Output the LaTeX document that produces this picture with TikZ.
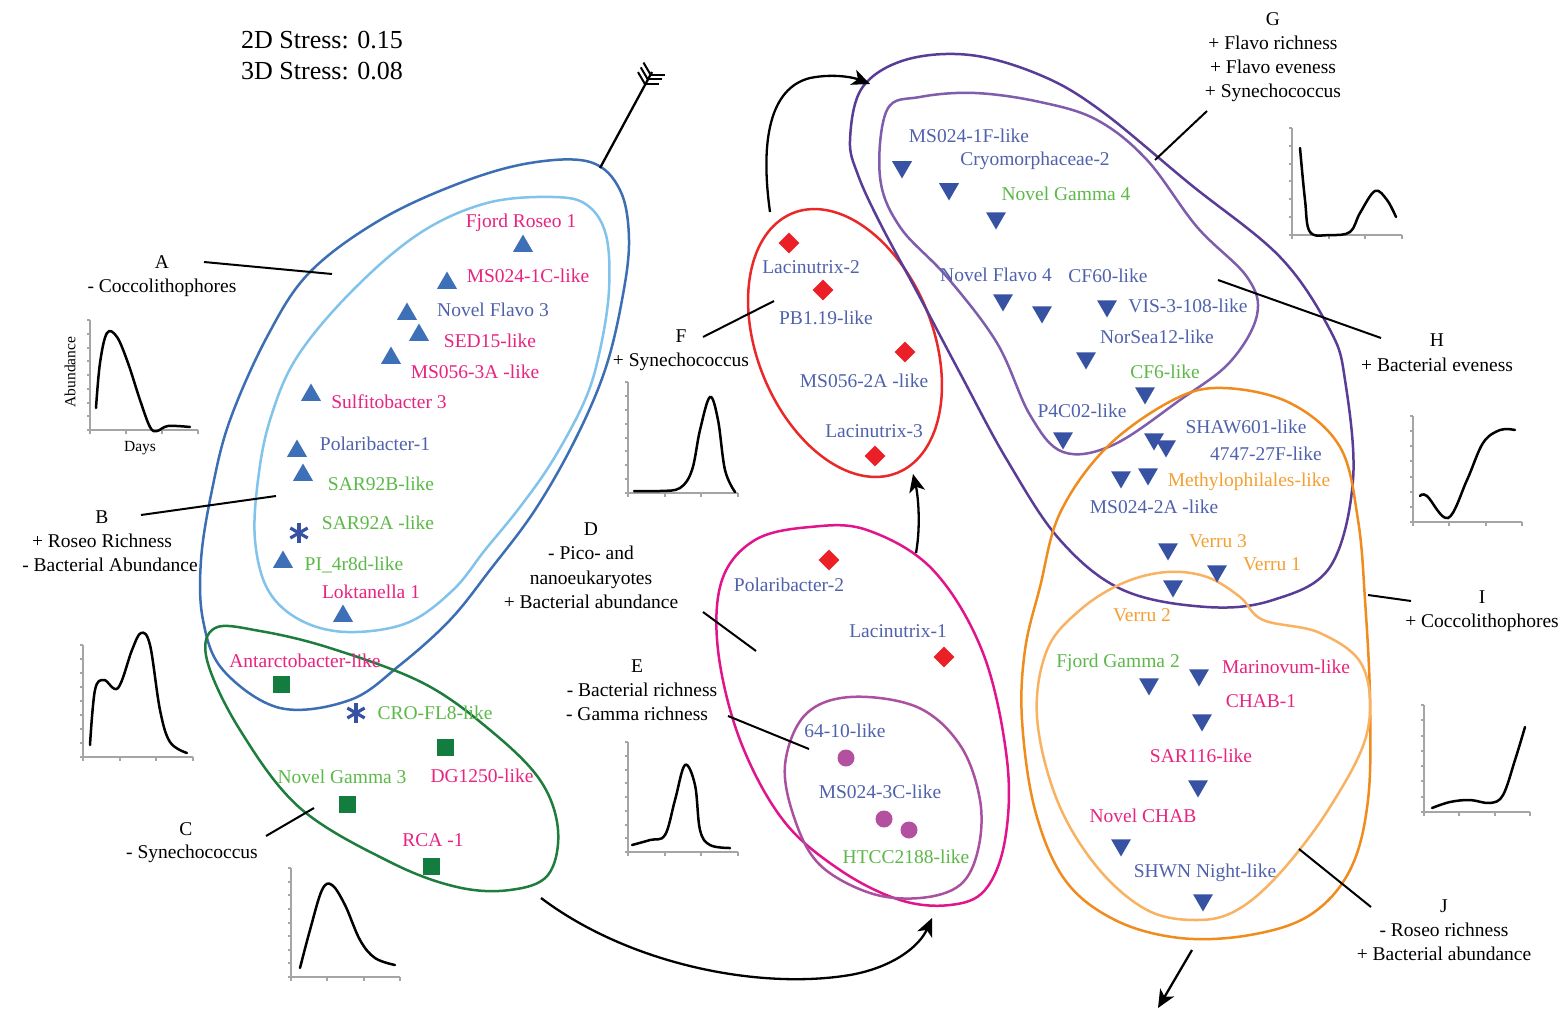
\documentclass[tikz,border=0pt]{standalone}
\usepackage{fontspec}
\setmainfont{Liberation Serif}
\usetikzlibrary{shapes.geometric,arrows.meta}
\definecolor{cblue}{RGB}{80,98,172}
\definecolor{cpink}{RGB}{232,35,128}
\definecolor{cgreen}{RGB}{92,184,72}
\definecolor{corange}{RGB}{245,160,50}
\definecolor{mtriu}{RGB}{62,112,184}
\definecolor{mtrid}{RGB}{55,82,162}
\definecolor{mred}{RGB}{235,32,38}
\definecolor{msq}{RGB}{18,125,62}
\definecolor{mcirc}{RGB}{180,80,160}
\definecolor{oA}{RGB}{60,110,180}
\definecolor{oB}{RGB}{130,195,235}
\definecolor{oC}{RGB}{30,125,60}
\definecolor{oF}{RGB}{235,40,40}
\definecolor{oD}{RGB}{225,20,140}
\definecolor{oE}{RGB}{170,80,160}
\definecolor{oG}{RGB}{88,60,150}
\definecolor{oH}{RGB}{128,92,172}
\definecolor{oI}{RGB}{240,140,30}
\definecolor{oJ}{RGB}{248,178,98}
\definecolor{axgray}{RGB}{165,165,165}
\tikzset{
 lab/.style={font=\fontsize{19.5}{24}\selectfont, inner sep=0pt, text height=13pt, text depth=0pt},
 txb/.style={lab,text=cblue}, txp/.style={lab,text=cpink}, txg/.style={lab,text=cgreen},
 txo/.style={lab,text=corange}, txk/.style={lab,text=black},
 triu/.style={regular polygon, regular polygon sides=3, fill=mtriu, minimum size=23pt, inner sep=0pt},
 trid/.style={regular polygon, regular polygon sides=3, shape border rotate=180, fill=mtrid, minimum size=23pt, inner sep=0pt},
 dia/.style={diamond, fill=mred, minimum width=21pt, minimum height=21pt, inner sep=0pt},
 sqm/.style={rectangle, fill=msq, minimum size=17pt, inner sep=0pt},
 cim/.style={circle, fill=mcirc, minimum size=17pt, inner sep=0pt},
 astk/.style={draw=mtrid, line width=3.2pt},
 blob/.style={line width=2.5pt},
 lead/.style={black, line width=2pt},
 axisln/.style={axgray, line width=2pt},
 crv/.style={black, line width=2.5pt, line cap=round},
 arr/.style={black, line width=2.3pt, -{Stealth[length=18pt,width=16pt,inset=5pt]}},
}
\newcommand\minigraph[5]{%
 \draw[axisln] (#1,{#2-#4}) -- (#1,#2) -- ({#1+#3},#2);
 \foreach \k in {0,...,#5} \draw[axisln] (#1,{#2-\k*#4/#5}) -- ++(-3,0);
 \foreach \k in {0,...,3} \draw[axisln] ({#1+\k*#3/3},#2) -- ++(0,4);
}
\newcommand\astmark[2]{%
 \foreach \a in {90,30,150} \draw[astk] (#1) ++(\a:#2) -- ++(\a+180:{2*#2});
}
\begin{document}
\begin{tikzpicture}[x=1pt,y=-1pt]
\useasboundingbox[fill=white] (0,0) rectangle (1565,1011);

% ---------- blobs ----------
\draw[blob,oA] plot[smooth cycle, tension=0.6] coordinates {(590,162) (620,190) (629,240) (622,300) (605,370) (575,440) (535,510) (490,570) (450,620) (400,665) (350,700) (280,708) (223,670) (203,620) (201,560) (212,490) (230,420) (268,335) (310,272) (380,220) (460,183) (530,163)};
\draw[blob,oB] plot[smooth cycle, tension=0.6] coordinates {(553,197) (587,205) (606,235) (609,290) (600,350) (585,400) (553,460) (520,507) (485,550) (453,590) (407,623) (347,632) (300,620) (268,590) (255,540) (258,480) (270,420) (297,357) (353,290) (420,233) (487,203)};
\draw[blob,oC] plot[smooth cycle, tension=0.6] coordinates {(215,628) (260,631) (330,648) (423,683) (490,730) (540,780) (558,830) (548,875) (510,890) (457,887) (390,862) (300,808) (240,730) (207,660)};
\draw[blob,oF] plot[domain=0:360, samples=72, smooth cycle] ({845+52.2*cos(\x)+81.7*sin(\x)},{343+129.9*cos(\x)-32.8*sin(\x)});
\draw[blob,oD] plot[smooth cycle, tension=0.6] coordinates {(810,527) (867,530) (933,570) (983,653) (1007,760) (1005,840) (985,890) (950,905) (900,900) (840,870) (783,820) (740,740) (718,650) (722,580) (755,540)};
\draw[blob,oE] plot[smooth cycle, tension=0.6] coordinates {(850,697) (917,707) (960,745) (980,800) (978,850) (960,885) (920,898) (870,893) (820,865) (795,820) (785,765) (805,715)};
\draw[blob,oG] plot[smooth cycle, tension=0.6] coordinates {(850,140) (862,88) (905,60) (970,55) (1040,75) (1100,110) (1190,184) (1280,257) (1330,330) (1345,380) (1353,480) (1330,567) (1273,600) (1207,607) (1123,590) (1060,540) (1007,460) (961,375) (916,290) (880,223) (858,175)};
\draw[blob,oH] plot[smooth cycle, tension=0.6] coordinates {(887,110) (920,97) (975,93) (1040,102) (1097,120) (1147,160) (1197,227) (1247,277) (1257,315) (1230,362) (1180,400) (1113,445) (1063,452) (1030,415) (997,343) (947,277) (900,227) (880,177)};
\draw[blob,oI] plot[smooth cycle, tension=0.6] coordinates {(1040,587) (1060,513) (1107,447) (1173,400) (1223,388) (1290,403) (1340,447) (1358,520) (1365,600) (1370,700) (1368,800) (1350,870) (1310,915) (1250,935) (1180,938) (1115,920) (1065,880) (1035,810) (1022,720) (1025,650)};
\draw[blob,oJ] plot[smooth cycle, tension=0.6] coordinates {(1080,610) (1123,583) (1167,572) (1207,577) (1240,597) (1263,620) (1320,633) (1363,667) (1367,733) (1330,807) (1280,873) (1237,910) (1197,920) (1147,910) (1097,867) (1057,800) (1037,717) (1047,650)};

% ---------- markers ----------
\foreach \p [count=\i] in {(523,246),(447,283),(407,314),(419,335),(391,358),(311,395),(297,451),(303,475),(283,562),(343,616)}
  \node[triu] (tu\i) at \p {};
\foreach \p [count=\i] in {(902,167),(949,189),(996,218),(1003,300),(1042,312),(1107,306),(1086,358),(1145,393),(1063,438),(1154,439),(1166,446),(1121,477),(1148,474),(1168,549),(1217,571),(1173,586),(1149,684),(1199,675),(1202,720),(1198,786),(1121,845),(1203,900)}
  \node[trid] (td\i) at \p {};
\foreach \p [count=\i] in {(789,243),(823,290),(905,352),(875,456),(829,560),(944,657)}
  \node[dia] (dm\i) at \p {};
\foreach \p [count=\i] in {(281,684),(445,747),(347,804),(431,866)}
  \node[sqm] (sq\i) at \p {};
\foreach \p [count=\i] in {(846,758),(884,819),(909,830)}
  \node[cim] (ci\i) at \p {};
\coordinate (as1) at (299,533);
\coordinate (as2) at (356,713);
\astmark{as1}{10}
\astmark{as2}{10}

% ---------- species labels ----------
\node[txp] (s1) at (521,221) {Fjord Roseo 1};
\node[txp] (s2) at (528,276) {MS024-1C-like};
\node[txb] (s3) at (493,310) {Novel Flavo 3};
\node[txp] (s4) at (490,341) {SED15-like};
\node[txp] (s5) at (475,372) {MS056-3A -like};
\node[txp] (s6) at (389,402) {Sulfitobacter 3};
\node[txb] (s7) at (375,444) {Polaribacter-1};
\node[txg] (s8) at (381,484) {SAR92B-like};
\node[txg] (s9) at (378,523) {SAR92A -like};
\node[txg] (s10) at (354,564) {PI\_4r8d-like};
\node[txp] (s11) at (371,592) {Loktanella 1};
\node[txp] (s12) at (305,661) {Antarctobacter-like};
\node[txg] (s13) at (435,713) {CRO-FL8-like};
\node[txp] (s14) at (482,776) {DG1250-like};
\node[txg] (s15) at (342,777) {Novel Gamma 3};
\node[txp] (s16) at (433,840) {RCA -1};
\node[txb] (s17) at (811,267) {Lacinutrix-2};
\node[txb] (s18) at (826,318) {PB1.19-like};
\node[txb] (s19) at (864,381) {MS056-2A -like};
\node[txb] (s20) at (874,431) {Lacinutrix-3};
\node[txb] (s21) at (789,585) {Polaribacter-2};
\node[txb] (s22) at (898,631) {Lacinutrix-1};
\node[txb] (s23) at (845,731) {64-10-like};
\node[txb] (s24) at (880,792) {MS024-3C-like};
\node[txg] (s25) at (906,857) {HTCC2188-like};
\node[txb] (s26) at (969,136) {MS024-1F-like};
\node[txb] (s27) at (1035,159) {Cryomorphaceae-2};
\node[txg] (s28) at (1066,194) {Novel Gamma 4};
\node[txb] (s29) at (996,275) {Novel Flavo 4};
\node[txb] (s30) at (1108,276) {CF60-like};
\node[txb] (s31) at (1188,306) {VIS-3-108-like};
\node[txb] (s32) at (1157,337) {NorSea12-like};
\node[txg] (s33) at (1165,372) {CF6-like};
\node[txb] (s34) at (1082,411) {P4C02-like};
\node[txb] (s35) at (1246,427) {SHAW601-like};
\node[txb] (s36) at (1266,454) {4747-27F-like};
\node[txo] (s37) at (1249,480) {Methylophilales-like};
\node[txb] (s38) at (1154,507) {MS024-2A -like};
\node[txo] (s39) at (1218,541) {Verru 3};
\node[txo] (s40) at (1272,564) {Verru 1};
\node[txo] (s41) at (1142,615) {Verru 2};
\node[txg] (s42) at (1118,661) {Fjord Gamma 2};
\node[txp] (s43) at (1286,667) {Marinovum-like};
\node[txp] (s44) at (1261,701) {CHAB-1};
\node[txp] (s45) at (1201,756) {SAR116-like};
\node[txp] (s46) at (1143,816) {Novel CHAB};
\node[txb] (s47) at (1205,871) {SHWN Night-like};

% ---------- stress ----------
\node[lab, font=\fontsize{26}{30}\selectfont, text height=18pt, anchor=west] (st1) at (241,40) {2D Stress: 0.15};
\node[lab, font=\fontsize{26}{30}\selectfont, text height=18pt, anchor=west] (st2) at (241,71) {3D Stress: 0.08};

% ---------- group labels ----------
\node[txk] (A1) at (162,262) {A};
\node[txk] (A2) at (162,286) {- Coccolithophores};
\node[txk] (B1) at (102,517) {B};
\node[txk] (B2) at (102,541) {+ Roseo Richness};
\node[txk] (B3) at (110,565) {- Bacterial Abundance};
\node[txk] (C1) at (186,829) {C};
\node[txk] (C2) at (192,852) {- Synechococcus};
\node[txk] (D1) at (591,529) {D};
\node[txk] (D2) at (591,553) {- Pico- and};
\node[txk] (D3) at (591,578) {nanoeukaryotes};
\node[txk] (D4) at (591,602) {+ Bacterial abundance};
\node[txk] (E1) at (637,666) {E};
\node[txk] (E2) at (642,690) {- Bacterial richness};
\node[txk] (E3) at (637,714) {- Gamma richness};
\node[txk] (F1) at (681,336) {F};
\node[txk] (F2) at (681,360) {+ Synechococcus};
\node[txk] (G1) at (1273,19) {G};
\node[txk] (G2) at (1273,43) {+ Flavo richness};
\node[txk] (G3) at (1273,67) {+ Flavo eveness};
\node[txk] (G4) at (1273,91) {+ Synechococcus};
\node[txk] (H1) at (1437,340) {H};
\node[txk] (H2) at (1437,365) {+ Bacterial eveness};
\node[txk] (I1) at (1482,597) {I};
\node[txk] (I2) at (1482,621) {+ Coccolithophores};
\node[txk] (J1) at (1444,906) {J};
\node[txk] (J2) at (1444,930) {- Roseo richness};
\node[txk] (J3) at (1444,954) {+ Bacterial abundance};

% ---------- leader lines ----------
\coordinate (la1) at (204,262); \coordinate (la2) at (332,274);
\coordinate (lb1) at (141,515); \coordinate (lb2) at (276,496);
\coordinate (lc1) at (266,836); \coordinate (lc2) at (314,808);
\coordinate (ld1) at (703,612); \coordinate (ld2) at (756,651);
\coordinate (le1) at (728,716); \coordinate (le2) at (809,749);
\coordinate (lf1) at (703,337); \coordinate (lf2) at (774,301);
\coordinate (lg1) at (1207,111); \coordinate (lg2) at (1155,160);
\coordinate (lh1) at (1218,280); \coordinate (lh2) at (1381,338);
\coordinate (li1) at (1368,595); \coordinate (li2) at (1411,601);
\coordinate (lj1) at (1299,849); \coordinate (lj2) at (1371,907);
\foreach \u in {a,b,c,d,e,f,g,h,i,j} \draw[lead] (l\u1) -- (l\u2);

% ---------- arrows ----------
\coordinate (fa1) at (600,168); \coordinate (fa2) at (652,72);
\draw[lead, line width=2.3pt] (fa1) -- (fa2);
\foreach \k in {0,1,2} {
  \draw[lead] (fa2) ++({-0.5*(3+5.5*\k)},{0.866*(3+5.5*\k)}) -- ++(14,0);
  \draw[lead] (fa2) ++({-0.5*(3+5.5*\k)},{0.866*(3+5.5*\k)}) -- ++(-7,-12);
}
\coordinate (ar1a) at (770,212); \coordinate (ar1b) at (870,84);
\draw[arr] (ar1a) .. controls (760,140) and (770,88) .. (810,78) .. controls (835,73) and (855,78) .. (ar1b);
\coordinate (ar2a) at (916,553); \coordinate (ar2b) at (913,474);
\draw[arr] (ar2a) .. controls (921,525) and (918,495) .. (ar2b);
\coordinate (ar3a) at (541,898); \coordinate (ar3b) at (932,918);
\draw[arr] (ar3a) .. controls (630,965) and (760,990) .. (850,975) .. controls (895,967) and (920,945) .. (ar3b);
\coordinate (ar4a) at (1192,950); \coordinate (ar4b) at (1158,1008);
\draw[arr] (ar4a) -- (ar4b);

% ---------- mini graphs ----------
\minigraph{90}{430}{108}{110}{8}
\draw[crv] plot[smooth, tension=0.6] coordinates {(96,408) (100,363) (107,333) (117,337) (128,363) (140,400) (150,427) (157,431) (168,426) (190,427)};
\node[lab, font=\fontsize{15.5}{18}\selectfont, text height=10.5pt, rotate=90] (gAy) at (70,372) {Abundance};
\node[lab, font=\fontsize{15.5}{18}\selectfont, text height=10.5pt] (gAx) at (140,446) {Days};

\minigraph{628}{493}{110}{111}{8}
\draw[crv] plot[smooth, tension=0.6] coordinates {(634,491) (660,491) (680,488) (692,470) (700,430) (710,397) (718,420) (725,470) (735,492)};

\minigraph{83}{757}{110}{112}{8}
\draw[crv] plot[smooth, tension=0.6] coordinates {(90,745) (95,690) (104,680) (118,688) (132,650) (141,633) (150,645) (160,710) (170,742) (187,753)};

\minigraph{291}{977}{109}{109}{8}
\draw[crv] plot[smooth, tension=0.6] coordinates {(300,968) (310,930) (322,890) (332,885) (345,905) (360,940) (375,958) (395,965)};

\minigraph{628}{852}{110}{110}{8}
\draw[crv] plot[smooth, tension=0.6] coordinates {(632,845) (650,840) (665,835) (675,800) (685,765) (695,785) (700,830) (710,845) (730,848)};

\minigraph{1292}{235}{110}{107}{6}
\draw[crv] plot[smooth, tension=0.6] coordinates {(1300,148) (1305,200) (1310,232) (1330,235) (1350,232) (1360,213) (1375,191) (1387,200) (1396,217)};

\minigraph{1413}{522}{109}{106}{7}
\draw[crv] plot[smooth, tension=0.6] coordinates {(1420,496) (1427,496) (1448,518) (1467,480) (1483,443) (1500,430) (1515,430)};

\minigraph{1424}{812}{106}{107}{7}
\draw[crv] plot[smooth, tension=0.6] coordinates {(1432,808) (1450,802) (1470,800) (1490,803) (1503,795) (1515,760) (1525,727)};
\end{tikzpicture}
\end{document}
